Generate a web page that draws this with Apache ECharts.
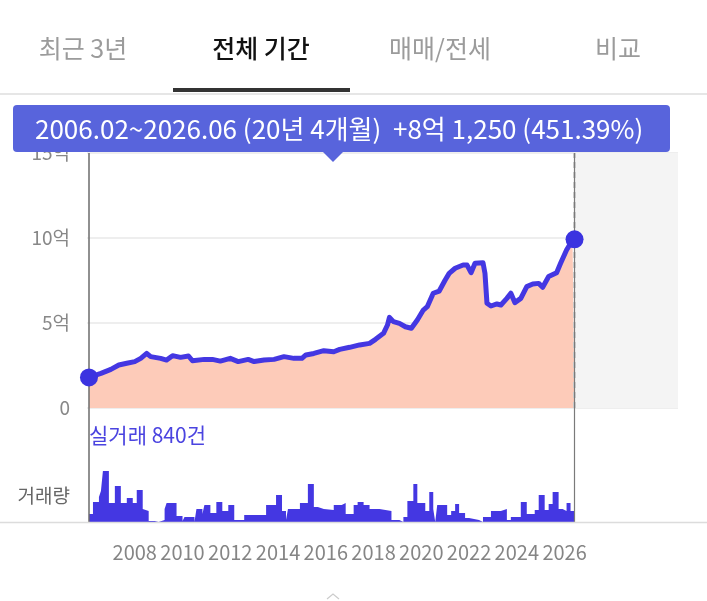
<!DOCTYPE html>
<html>
<head>
<meta charset="utf-8">
<script src="https://cdn.jsdelivr.net/npm/echarts@6/dist/echarts.min.js"></script>
<style>
html,body{margin:0;padding:0;background:#fff;}
#chart{width:707px;height:601px;}
</style>
</head>
<body>
<div id="chart"></div>
<script>
// ---- data ----
const priceDates = ['2006-02','2006-08','2007-01','2007-05','2007-09','2008-01','2008-04','2008-07','2008-09','2009-02',
  '2009-05','2009-08','2009-12','2010-04','2010-06','2010-12','2011-04','2011-08','2012-01','2012-05',
  '2012-10','2013-01','2013-06','2013-11','2014-04','2014-09','2015-01','2015-03','2015-07','2015-12',
  '2016-05','2016-08','2017-01','2017-06','2017-11','2018-02','2018-06','2018-08','2018-09','2018-11',
  '2019-02','2019-05','2019-06','2019-08','2019-11','2020-02','2020-04','2020-07','2020-10','2021-01',
  '2021-03','2021-06','2021-07','2021-10','2021-12','2022-02','2022-04','2022-08','2022-09','2022-10',
  '2022-12','2023-03','2023-05','2023-08','2023-10','2023-12','2024-03','2024-06','2024-09','2024-12',
  '2025-02','2025-05','2025-09','2025-11','2026-02','2026-05','2026-06'];
const priceValues = [1.80,2.04,2.27,2.53,2.63,2.73,2.92,3.21,3.02,2.92,
  2.82,3.08,2.98,3.06,2.78,2.86,2.86,2.76,2.92,2.73,
  2.86,2.73,2.82,2.86,3.02,2.92,2.92,3.12,3.21,3.37,
  3.31,3.45,3.57,3.71,3.80,4.04,4.39,4.88,5.33,5.08,
  4.98,4.78,4.88,4.69,5.18,5.76,5.96,6.75,6.88,7.53,
  7.92,8.22,8.27,8.41,8.41,7.96,8.51,8.55,7.92,6.16,
  6.00,6.12,6.06,6.45,6.75,6.20,6.45,7.14,7.29,7.33,
  7.10,7.73,7.96,8.51,9.29,9.88,9.925];

const volDates = ['2006-02','2006-04','2006-07','2006-08','2006-09','2006-12','2007-03','2007-06','2007-09','2007-12',
  '2008-02','2008-05','2008-06','2008-08','2008-11','2009-01','2009-04','2009-05','2009-10','2010-01',
  '2010-02','2010-07','2010-08','2010-11','2010-12','2011-03','2011-06','2011-09','2011-12','2012-03',
  '2012-08','2013-07','2013-12','2014-03','2014-05','2014-06','2014-12','2015-04','2015-07','2015-09',
  '2015-12','2016-05','2016-09','2016-11','2017-03','2017-05','2017-08','2017-11','2018-04','2018-10',
  '2019-02','2019-04','2019-06','2019-09','2019-11','2020-03','2020-05','2020-07','2020-08','2020-09',
  '2021-02','2021-04','2021-06','2021-08','2021-11','2022-01','2022-06','2022-08','2022-12','2023-05',
  '2023-08','2023-10','2024-03','2024-06','2024-10','2024-12','2025-03','2025-05','2025-07','2025-10',
  '2025-12','2026-02','2026-04','2026-06'];
const volValues = [8,20,25,31,51,19,36,19,24,19,
  32,13,11,1,0,2,13,19,6,1,
  5,0,13,8,17,9,20,11,17,2,
  7,17,27,11,2,13,19,38,15,13,
  12,17,19,8,17,20,17,13,11,2,
  0,5,21,38,19,11,30,13,0,17,
  7,11,18,9,4,2,0,5,11,13,
  2,5,20,8,12,27,12,18,30,13,
  11,19,11,11];

const yearLabels = [2008,2010,2012,2014,2016,2018,2020,2022,2024,2026];
const priceTicks = [0,5,10,15];
const tabLabels = ['최근 3년','전체 기간','매매/전세','비교'];
const summaryText = '2006.02~2026.06 (20년 4개월)  +8억 1,250 (451.39%)';
const dealText = '실거래 840건';
const volumeLabel = '거래량';

// ---- helpers ----
function toYear(s){ const p = s.split('-').map(Number); return p[0] + (p[1]-1)/12; }
const priceData = priceDates.map((d,i)=>[toYear(d), priceValues[i]]);
const volData = volDates.map((d,i)=>[toYear(d), volValues[i]]);
const startX = toYear(priceDates[0]);
const endX = toYear(priceDates[priceDates.length-1]);
const endPoints = [priceData[0], priceData[priceData.length-1]];

const FONT = '"Noto Sans CJK KR", "Noto Sans", sans-serif';
const XMIN = 2006, XMAX = 2030.75;

const chart = echarts.init(document.getElementById('chart'), null, {renderer:'canvas'});

const tabX = [83, 261, 440, 618];
const tabGraphics = tabLabels.map((t,i)=>({
  type:'text', x: tabX[i], y: 48, z: 10,
  style:{ text:t, fill: i===1 ? '#111111' : '#9b9b9b', fontSize:25, fontFamily:FONT,
          fontWeight: i===1 ? 500 : 400, align:'center', verticalAlign:'middle' }
}));

const option = {
  animation:false,
  backgroundColor:'#ffffff',
  grid:[
    {left:87, right:29, top:153, bottom:193},
    {left:87, right:29, top:408, bottom:79}
  ],
  xAxis:[
    {gridIndex:0, type:'value', min:XMIN, max:XMAX, interval:2,
     axisLine:{show:false}, axisTick:{show:false}, axisLabel:{show:false}, splitLine:{show:false}},
    {gridIndex:1, type:'value', min:XMIN, max:XMAX, interval:2,
     axisLine:{show:false}, axisTick:{show:false}, splitLine:{show:false},
     axisLabel:{show:true, margin:20, color:'#858585', fontSize:20, fontFamily:FONT,
       formatter: v => yearLabels.indexOf(Math.round(v))>=0 && Math.abs(v-Math.round(v))<1e-6 ? String(Math.round(v)) : ''}}
  ],
  yAxis:[
    {gridIndex:0, type:'value', min:priceTicks[0], max:priceTicks[priceTicks.length-1], interval:5,
     axisLine:{show:false}, axisTick:{show:false},
     axisLabel:{margin:17, color:'#888888', fontSize:19, fontFamily:FONT,
       formatter: v => v===0 ? '0' : v+'억'},
     splitLine:{show:true, lineStyle:{color:'#e8e8e8', width:1.5}}},
    {gridIndex:1, type:'value', min:0, max:114, show:false, splitLine:{show:false}}
  ],
  series:[
    {
      type:'line', xAxisIndex:0, yAxisIndex:0, data:priceData,
      symbol:'none', smooth:false, z:3,
      lineStyle:{color:'#4437e2', width:5, join:'round'},
      areaStyle:{color:'#fdcbb9', opacity:1},
      markArea:{silent:true, itemStyle:{color:'#f4f4f4'}, z:0,
        data:[[{xAxis:endX},{xAxis:XMAX}]]},
      markLine:{silent:true, symbol:'none', label:{show:false},
        data:[
          {xAxis:startX, lineStyle:{color:'#6b6b6b', width:1.5, type:'solid'}},
          {xAxis:endX, lineStyle:{color:'#d2d2d2', width:3, type:[6,4]}},
          {xAxis:endX, lineStyle:{color:'#7a7a7a', width:1.2, type:'solid'}}
        ]}
    },
    {
      type:'scatter', xAxisIndex:0, yAxisIndex:0, data:endPoints,
      symbolSize:18, z:5, itemStyle:{color:'#3b33e0', opacity:1}
    },
    {
      type:'line', xAxisIndex:1, yAxisIndex:1, data:volData, step:'end',
      symbol:'none', lineStyle:{width:0}, areaStyle:{color:'#4437e2', opacity:1},
      markLine:{silent:true, symbol:'none', label:{show:false},
        data:[
          {xAxis:startX, lineStyle:{color:'#6b6b6b', width:1.5, type:'solid'}},
          {xAxis:endX, lineStyle:{color:'#7a7a7a', width:1.2, type:'solid'}}
        ]}
    }
  ],
  graphic:[
    ...tabGraphics,
    {type:'rect', z:10, shape:{x:173, y:88, width:177, height:4}, style:{fill:'#333333'}},
    {type:'line', z:9, shape:{x1:0, y1:94, x2:707, y2:94}, style:{stroke:'#dedede', lineWidth:1.5}},
    {type:'rect', z:20, shape:{x:13, y:105, width:657, height:47, r:4}, style:{fill:'#5864dc'}},
    {type:'polygon', z:20, shape:{points:[[322,151],[344,151],[333,162]]}, style:{fill:'#5864dc'}},
    {type:'text', z:21, x:35, y:129, style:{text:summaryText, fill:'#ffffff', fontSize:26, fontFamily:FONT, align:'left', verticalAlign:'middle'}},
    {type:'text', z:10, x:89, y:435, style:{text:dealText, fill:'#4b44e0', fontSize:21, fontFamily:FONT, align:'left', verticalAlign:'middle'}},
    {type:'text', z:10, x:70, y:496, style:{text:volumeLabel, fill:'#666666', fontSize:19, fontFamily:FONT, align:'right', verticalAlign:'middle'}},
    {type:'line', z:10, shape:{x1:0, y1:522.5, x2:707, y2:522.5}, style:{stroke:'#dcdcdc', lineWidth:1.5}},
    {type:'polyline', z:10, shape:{points:[[327,599],[333,594],[339,599]]}, style:{stroke:'#cccccc', lineWidth:1.2, fill:null}}
  ]
};
chart.setOption(option);
</script>
</body>
</html>
